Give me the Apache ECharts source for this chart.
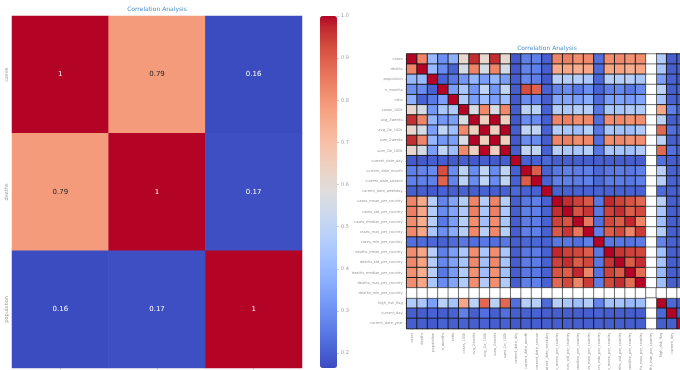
<!DOCTYPE html>
<html>
<head>
<meta charset="utf-8">
<script src="https://cdn.jsdelivr.net/npm/echarts@6/dist/echarts.min.js"></script>
<style>
  html, body { margin: 0; padding: 0; background: #ffffff; }
  #chart { width: 680px; height: 370px; }
</style>
</head>
<body>
<div id="chart"></div>
<script>
// ---- Small correlation matrix (left panel) ----
const leftVars = ['cases', 'deaths', 'population'];
const leftCorr = [
  [1.00, 0.79, 0.16],
  [0.79, 1.00, 0.17],
  [0.16, 0.17, 1.00]
];
const leftRange = [0.1645, 1.0];
const colorbarTicks = [0.2, 0.3, 0.4, 0.5, 0.6, 0.7, 0.8, 0.9, 1.0];

// ---- Full feature correlation matrix (right panel), lower triangle ----
const rightVars = [
  'cases', 'deaths', 'population', 'n_months', 'ratio', 'cases_100k',
  'avg_2weeks', 'avg_2w_100k', 'sum_2weeks', 'sum_2w_100k',
  'current_date_day', 'current_date_month', 'current_date_season', 'current_date_weekday',
  'cases_mean_per_country', 'cases_std_per_country', 'cases_median_per_country',
  'cases_max_per_country', 'cases_min_per_country',
  'deaths_mean_per_country', 'deaths_std_per_country', 'deaths_median_per_country',
  'deaths_max_per_country', 'deaths_min_per_country',
  'high_risk_flag', 'current_day', 'current_date_year'
];
// null = undefined correlation (constant column)
const rightLower = [
  [1],
  [0.80, 1],
  [0.28, 0.28, 1],
  [0.16, 0.15, 0.05, 1],
  [0.25, 0.05, 0.10, 0.20, 1],
  [0.54, 0.47, 0.18, 0.33, 0.35, 1],
  [0.96, 0.80, 0.27, 0.18, 0.20, 0.48, 1],
  [0.54, 0.47, 0.20, 0.40, 0.30, 0.79, 0.58, 1],
  [0.96, 0.80, 0.27, 0.18, 0.20, 0.48, 1.00, 0.58, 1],
  [0.54, 0.47, 0.20, 0.40, 0.30, 0.79, 0.58, 1.00, 0.58, 1],
  [0.03, 0.03, 0.04, 0.04, 0.03, 0.04, 0.03, 0.04, 0.03, 0.04, 1],
  [0.12, 0.13, 0.14, 0.91, 0.15, 0.38, 0.15, 0.40, 0.15, 0.40, 0.05, 1],
  [0.12, 0.12, 0.12, 0.87, 0.13, 0.38, 0.15, 0.40, 0.15, 0.40, 0.05, 0.88, 1],
  [0.04, 0.04, 0.03, 0.05, 0.04, 0.05, 0.04, 0.05, 0.04, 0.05, 0.06, 0.05, 0.05, 1],
  [0.80, 0.71, 0.37, 0.13, 0.22, 0.36, 0.80, 0.36, 0.80, 0.37, 0.04, 0.10, 0.12, 0.05, 1],
  [0.81, 0.72, 0.36, 0.15, 0.22, 0.34, 0.81, 0.33, 0.81, 0.34, 0.04, 0.12, 0.12, 0.05, 0.96, 1],
  [0.78, 0.70, 0.37, 0.10, 0.20, 0.37, 0.78, 0.30, 0.78, 0.33, 0.04, 0.11, 0.11, 0.05, 0.93, 0.90, 1],
  [0.79, 0.72, 0.33, 0.16, 0.24, 0.37, 0.79, 0.37, 0.79, 0.37, 0.04, 0.12, 0.12, 0.05, 0.89, 0.95, 0.83, 1],
  [0.08, 0.07, 0.06, 0.05, 0.07, 0.10, 0.08, 0.10, 0.08, 0.10, 0.04, 0.06, 0.06, 0.05, 0.10, 0.10, 0.08, 0.12, 1],
  [0.78, 0.72, 0.37, 0.12, 0.20, 0.33, 0.78, 0.33, 0.78, 0.33, 0.04, 0.10, 0.11, 0.05, 0.97, 0.93, 0.92, 0.88, 0.10, 1],
  [0.79, 0.73, 0.36, 0.14, 0.21, 0.32, 0.79, 0.31, 0.79, 0.32, 0.04, 0.11, 0.11, 0.05, 0.93, 0.96, 0.88, 0.92, 0.10, 0.95, 1],
  [0.77, 0.70, 0.37, 0.10, 0.19, 0.35, 0.77, 0.30, 0.77, 0.31, 0.04, 0.10, 0.10, 0.05, 0.90, 0.88, 0.97, 0.80, 0.09, 0.93, 0.88, 1],
  [0.78, 0.72, 0.33, 0.15, 0.22, 0.35, 0.78, 0.35, 0.78, 0.35, 0.04, 0.12, 0.12, 0.05, 0.86, 0.92, 0.80, 0.94, 0.11, 0.92, 0.96, 0.85, 1],
  [null, null, null, null, null, null, null, null, null, null, null, null, null, null, null, null, null, null, null, null, null, null, null, null],
  [0.35, 0.33, 0.20, 0.38, 0.32, 0.72, 0.38, 0.86, 0.38, 0.86, 0.08, 0.37, 0.37, 0.07, 0.37, 0.33, 0.30, 0.36, 0.13, 0.31, 0.32, 0.28, 0.30, null, 1],
  [0.04, 0.04, 0.05, 0.04, 0.05, 0.12, 0.04, 0.08, 0.04, 0.08, 0.04, 0.05, 0.05, 0.04, 0.04, 0.04, 0.04, 0.04, 0.05, 0.04, 0.04, 0.04, 0.04, null, 0.06, 1],
  [0.04, 0.04, 0.03, 0.05, 0.04, 0.05, 0.04, 0.05, 0.04, 0.05, 0.03, 0.04, 0.04, 0.04, 0.04, 0.04, 0.04, 0.04, 0.04, 0.04, 0.04, 0.04, 0.04, null, 0.04, 0.04, 1]
];

// coolwarm diverging palette
const coolwarm = [
  '#3b4cc0', '#445acc', '#4d68d7', '#5775e1', '#6282ea', '#6c8ef1', '#779af7', '#82a5fb',
  '#8db0fe', '#98b9ff', '#a3c2ff', '#aec9fd', '#b8d0f9', '#c2d5f4', '#ccd9ee', '#d5dbe6',
  '#dddddd', '#e5d8d1', '#ecd3c5', '#f1ccb9', '#f5c4ad', '#f7bba0', '#f7b194', '#f7a687',
  '#f49a7b', '#f18d6f', '#ec7f63', '#e57058', '#de604d', '#d55042', '#cb3e38', '#c0282f', '#b40426'
];

const FONT = 'DejaVu Sans';

// left panel cells with annotation text
const leftData = [];
leftCorr.forEach((row, i) => {
  row.forEach((v, j) => {
    const dark = v > 0.3 && v < 0.9;
    leftData.push({ value: [j, i, v], label: { color: dark ? '#262626' : '#ffffff' } });
  });
});

// right panel: mirror the lower triangle into a full matrix
const rightData = [];
const rightMissing = [];
const n = rightVars.length;
for (let i = 0; i < n; i++) {
  for (let j = 0; j < n; j++) {
    const v = j <= i ? rightLower[i][j] : rightLower[j][i];
    if (v === null || v === undefined) rightMissing.push([j, i, 0]);
    else rightData.push([j, i, v]);
  }
}

const chart = echarts.init(document.getElementById('chart'), null, { renderer: 'canvas' });

const titleStyle = { fontFamily: FONT, fontSize: 6, fontWeight: 'normal', color: '#4a8fcb' };
const smallLabel = { fontFamily: FONT, fontSize: 3.6, color: '#9a9a9a' };

chart.setOption({
  backgroundColor: '#ffffff',
  animation: false,
  title: [
    { text: 'Correlation Analysis', left: 157, top: 6, textAlign: 'center', padding: 0, textStyle: titleStyle },
    { text: 'Correlation Analysis', left: 547, top: 45, textAlign: 'center', padding: 0, textStyle: titleStyle }
  ],
  grid: [
    { left: 12, top: 16, width: 290, height: 352, outerBoundsMode: 'none' },
    { left: 406.7, top: 54, width: 280.8, height: 274.6, outerBoundsMode: 'none' },
    { left: 320, top: 16, width: 17, height: 352, outerBoundsMode: 'none' }
  ],
  xAxis: [
    {
      gridIndex: 0, type: 'category', data: leftVars,
      axisLine: { show: false }, splitArea: { show: false },
      axisTick: { show: true, length: 3, alignWithLabel: true, lineStyle: { color: '#bbbbbb', width: 0.6 } },
      axisLabel: { fontFamily: FONT, fontSize: 5, color: '#999999', margin: 6 }
    },
    {
      gridIndex: 1, type: 'category', data: rightVars,
      axisLine: { show: false }, splitArea: { show: false },
      axisTick: { show: true, length: 1.5, alignWithLabel: true, lineStyle: { color: '#bbbbbb', width: 0.5 } },
      axisLabel: Object.assign({ interval: 0, rotate: 90, margin: 4 }, smallLabel)
    },
    { gridIndex: 2, type: 'category', data: [''], show: false }
  ],
  yAxis: [
    {
      gridIndex: 0, type: 'category', data: leftVars, inverse: true,
      axisLine: { show: false }, splitArea: { show: false },
      axisTick: { show: false },
      axisLabel: { fontFamily: FONT, fontSize: 5, color: '#999999', rotate: 90, margin: 3 }
    },
    {
      gridIndex: 1, type: 'category', data: rightVars, inverse: true,
      axisLine: { show: false }, splitArea: { show: false },
      axisTick: { show: true, length: 1.5, alignWithLabel: true, lineStyle: { color: '#bbbbbb', width: 0.5 } },
      axisLabel: Object.assign({ interval: 0, margin: 4 }, smallLabel)
    },
    {
      gridIndex: 2, type: 'value', position: 'right',
      min: leftRange[0], max: leftRange[1],
      axisLine: { show: false }, splitLine: { show: false },
      axisTick: { show: true, length: 2, customValues: colorbarTicks, lineStyle: { color: '#aaaaaa', width: 0.6 } },
      axisLabel: {
        show: true, customValues: colorbarTicks, margin: 4,
        fontFamily: FONT, fontSize: 5, color: '#a0a0a0',
        formatter: v => Number(v).toFixed(1)
      }
    }
  ],
  visualMap: [
    {
      type: 'continuous', seriesIndex: 0,
      min: leftRange[0], max: leftRange[1],
      calculable: false, show: true, orient: 'vertical',
      left: 320, top: 16, itemWidth: 17, itemHeight: 352, padding: 0,
      text: null, showLabel: false,
      inRange: { color: coolwarm }
    },
    {
      type: 'continuous', seriesIndex: 1,
      min: 0, max: 1, show: false,
      inRange: { color: coolwarm }
    }
  ],
  series: [
    {
      type: 'heatmap', xAxisIndex: 0, yAxisIndex: 0,
      data: leftData,
      label: {
        show: true, fontFamily: FONT, fontSize: 7,
        formatter: p => String(Number(p.value[2].toFixed(2)))
      },
      emphasis: { disabled: true }
    },
    {
      type: 'heatmap', xAxisIndex: 1, yAxisIndex: 1,
      data: rightData,
      itemStyle: { borderColor: 'rgba(20,20,20,0.9)', borderWidth: 1 },
      emphasis: { disabled: true }
    },
    {
      type: 'heatmap', xAxisIndex: 1, yAxisIndex: 1,
      data: rightMissing,
      itemStyle: { color: '#ffffff', borderColor: 'rgba(20,20,20,0.55)', borderWidth: 1 },
      emphasis: { disabled: true }
    },
    { type: 'scatter', xAxisIndex: 2, yAxisIndex: 2, data: [], silent: true }
  ]
});
</script>
</body>
</html>
